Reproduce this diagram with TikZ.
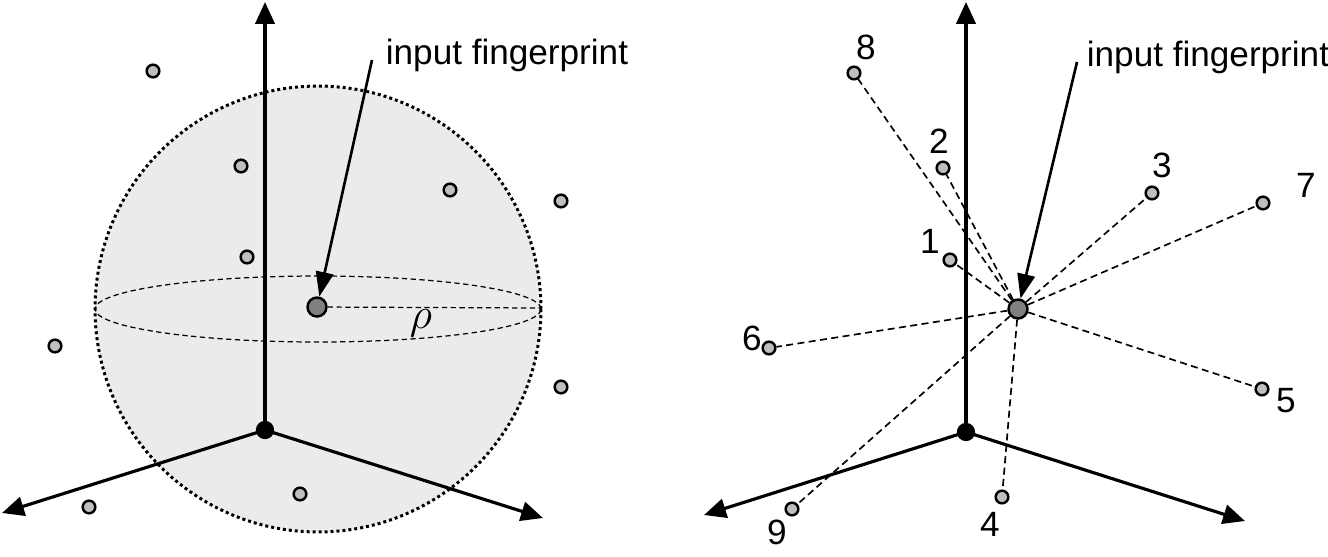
\documentclass[tikz,border=0pt]{standalone}
\usepackage{fontspec}
\setmainfont{Liberation Sans}
\usetikzlibrary{arrows.meta}
\begin{document}
\begin{tikzpicture}[x=0.02cm,y=-0.02cm,
  axis/.style={line width=1.8pt,-{Triangle[length=12.5pt,width=11pt]}},
  pnt/.style={circle,draw,line width=1.4pt,fill=black!25,inner sep=0pt,minimum size=7.2pt},
  inpt/.style={circle,draw,line width=1.4pt,fill=black!50,inner sep=0pt,minimum size=10.8pt},
  orig/.style={circle,fill=black,inner sep=0pt,minimum size=10.4pt},
  lbl/.style={font=\fontsize{20}{24}\selectfont,inner sep=0pt},
  ptr/.style={line width=1.5pt,-{Triangle[length=14pt,width=10pt]}},
  dsh/.style={line width=0.95pt,dash pattern=on 4pt off 2.5pt},
  thindsh/.style={line width=0.7pt,dash pattern=on 3pt off 2pt}]
\useasboundingbox (0,0) rectangle (1328,556);
% ---------- left panel ----------
\coordinate (sc) at (318,309);
\fill[black!8] (sc) circle[radius=4.46cm];
\draw[thindsh] (sc) ellipse[x radius=4.46cm,y radius=0.66cm];
\draw[line width=1.7pt,dash pattern=on 1.7pt off 1.7pt] (sc) circle[radius=4.46cm];
\node[orig] (oL) at (265,430) {};
\coordinate (zL) at (265,2);
\coordinate (xL) at (2,513);
\coordinate (yL) at (543,518);
\draw[axis] (oL.center) -- (zL);
\draw[axis] (oL.center) -- (xL);
\draw[axis] (oL.center) -- (yL);
\node[inpt] (inL) at (317,307) {};
\coordinate (rimL) at (541,308);
\draw[thindsh] (inL) -- (rimL);
\node[inner sep=0pt] (rho) at (421,323) {\fontsize{25}{30}\selectfont$\rho$};
\node[lbl] (tL) at (507,55) {input fingerprint};
\coordinate (aL) at (372,60);
\draw[ptr] (aL) -- (inL);
\node[pnt] (l1) at (153,71) {};
\node[pnt] (l2) at (241,166) {};
\node[pnt] (l3) at (450,190) {};
\node[pnt] (l4) at (561,201) {};
\node[pnt] (l5) at (247,257) {};
\node[pnt] (l6) at (55,346) {};
\node[pnt] (l7) at (561,387) {};
\node[pnt] (l8) at (300,494) {};
\node[pnt] (l9) at (89,507) {};
% ---------- right panel ----------
\node[orig] (oR) at (966,432) {};
\coordinate (zR) at (966,2);
\coordinate (xR) at (704,515);
\coordinate (yR) at (1245,521);
\draw[axis] (oR.center) -- (zR);
\draw[axis] (oR.center) -- (xR);
\draw[axis] (oR.center) -- (yR);
\node[inpt] (inR) at (1018,309) {};
\node[lbl] (tR) at (1208,57) {input fingerprint};
\coordinate (aR) at (1077,62);
\draw[ptr] (aR) -- (inR);
\node[pnt] (p1) at (950,260) {};
\node[pnt] (p2) at (943,168) {};
\node[pnt] (p3) at (1152,193) {};
\node[pnt] (p4) at (1002,497) {};
\node[pnt] (p5) at (1262,389) {};
\node[pnt] (p6) at (769,348) {};
\node[pnt] (p7) at (1263,203) {};
\node[pnt] (p8) at (854,73) {};
\node[pnt] (p9) at (792,509) {};
\foreach \i in {1,...,9} {\draw[dsh] (inR) -- (p\i);}
\node[lbl] (n1) at (930,241) {1};
\node[lbl] (n2) at (939,141) {2};
\node[lbl] (n3) at (1162,165) {3};
\node[lbl] (n4) at (990,524) {4};
\node[lbl] (n5) at (1286,401) {5};
\node[lbl] (n6) at (752,338) {6};
\node[lbl] (n7) at (1306,185) {7};
\node[lbl] (n8) at (866,47) {8};
\node[lbl] (n9) at (777,532) {9};
\end{tikzpicture}
\end{document}
